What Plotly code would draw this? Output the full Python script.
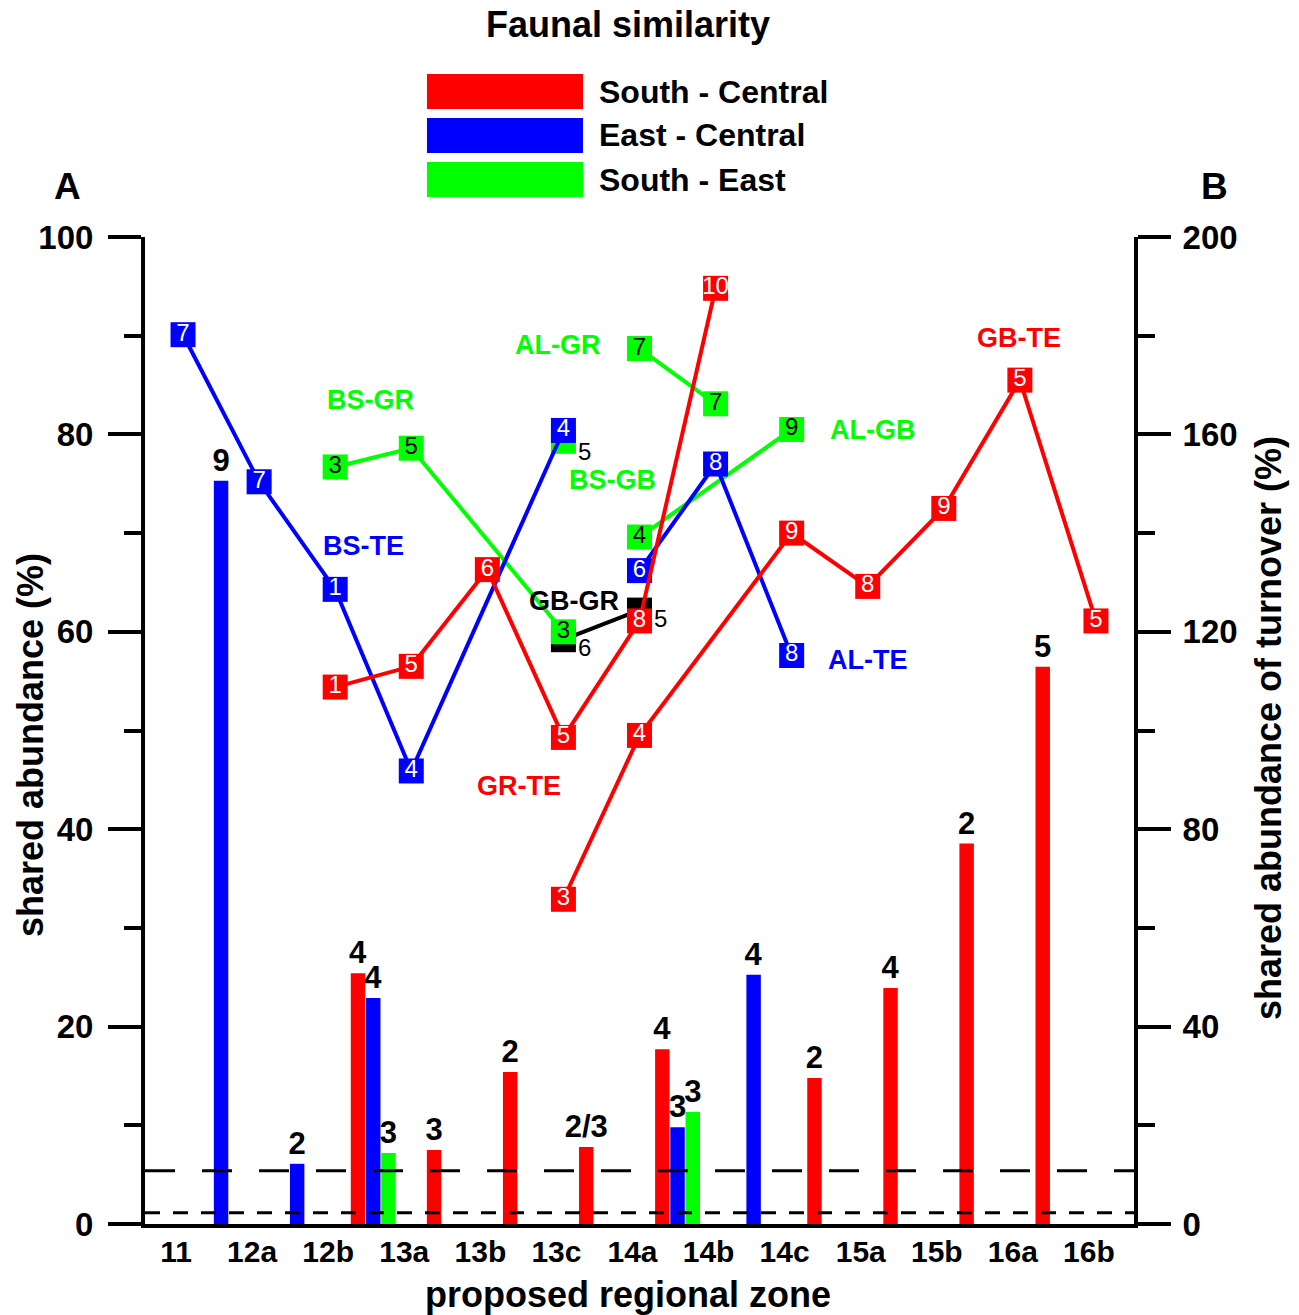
import plotly.graph_objects as go

# ---------------- data ----------------
zones = ["11", "12a", "12b", "13a", "13b", "13c", "14a", "14b", "14c", "15a", "15b", "16a", "16b"]

# bars (shared abundance of turnover, %, right axis) placed at the boundary after the given zone
sc_after = ["12b", "13a", "13b", "13c", "14a", "14c", "15a", "15b", "16a"]
sc_values = [50.8, 15.0, 30.8, 15.6, 35.4, 29.6, 47.8, 77.1, 112.9]
sc_labels = ["4", "3", "2", "2/3", "4", "2", "4", "2", "5"]

ec_after = ["11", "12a", "12b", "14a", "14b"]
ec_values = [150.6, 12.2, 45.8, 19.6, 50.5]
ec_labels = ["9", "2", "4", "3", "4"]

se_after = ["12b", "14a"]
se_values = [14.4, 22.7]
se_labels = ["3", "3"]

# reference levels (right axis)
ref_long = 10.8
ref_short = 2.3

# lines (shared abundance, %, left axis)
gbgr_zones = ["13c", "14a"];              gbgr_values = [59.2, 62.2];  gbgr_labels = ["6", "5"]
bsgb_zones = ["13c"];                     bsgb_values = [79.3];        bsgb_labels = ["5"]
bsgr_zones = ["12b", "13a", "13c"];       bsgr_values = [76.7, 78.6, 60.0]; bsgr_labels = ["3", "5", "3"]
algr_zones = ["14a", "14b"];              algr_values = [88.7, 83.1];  algr_labels = ["7", "7"]
algb_zones = ["14a", "14c"];              algb_values = [69.6, 80.5];  algb_labels = ["4", "9"]
bste_zones = ["11", "12a", "12b", "13a", "13c"]; bste_values = [90.1, 75.2, 64.3, 45.9, 80.4]; bste_labels = ["7", "7", "1", "4", "4"]
alte_zones = ["14a", "14b", "14c"];       alte_values = [66.2, 77.0, 57.6]; alte_labels = ["6", "8", "8"]
grte_zones = ["12b", "13a", "13b", "13c", "14a", "14b"]; grte_values = [54.4, 56.5, 66.3, 49.3, 61.1, 94.8]; grte_labels = ["1", "5", "6", "5", "8", "10"]
gbte_zones = ["13c", "14a", "14c", "15a", "15b", "16a", "16b"]; gbte_values = [32.9, 49.5, 70.0, 64.6, 72.5, 85.5, 61.1]; gbte_labels = ["3", "4", "9", "8", "9", "5", "5"]

legend_names = ["South - Central", "East - Central", "South - East"]

# ---------------- styling ----------------
RED, BLUE, GREEN, BLACK = "#FF0000", "#0000FF", "#00FF00", "#000000"
FONT = "Liberation Sans, Arial, sans-serif"
idx = {z: i for i, z in enumerate(zones)}

fig = go.Figure()

# bars
bar_specs = [
    (sc_after, sc_values, sc_labels, RED, -0.295, legend_names[0]),
    (ec_after, ec_values, ec_labels, BLUE, -0.095, legend_names[1]),
    (se_after, se_values, se_labels, GREEN, 0.105, legend_names[2]),
]
for after, vals, labs, col, off, name in bar_specs:
    fig.add_trace(go.Bar(
        x=[idx[z] + 0.5 for z in after], y=vals, yaxis="y2", name=name,
        width=0.19, offset=off, marker=dict(color=col, line=dict(width=0)),
        text=labs, textposition="outside", constraintext="none", cliponaxis=False,
        textfont=dict(family=FONT, size=31, color=BLACK, weight="bold"),
        showlegend=False, hoverinfo="skip",
    ))

# lines
def add_line(zs, vals, labs, col, tcol, show_text=True, name=""):
    fig.add_trace(go.Scatter(
        x=[idx[z] for z in zs], y=vals, name=name,
        mode="lines+markers+text" if show_text else "lines+markers",
        text=labs if show_text else None, textposition="middle center",
        textfont=dict(family=FONT, size=24, color=tcol),
        marker=dict(symbol="square", size=25, color=col, line=dict(width=0)),
        line=dict(color=col, width=4), cliponaxis=False, showlegend=False,
    ))

add_line(gbgr_zones, gbgr_values, gbgr_labels, BLACK, "white", False, "GB-GR")
add_line(bsgb_zones, bsgb_values, bsgb_labels, GREEN, BLACK, False, "BS-GB")
add_line(bsgr_zones, bsgr_values, bsgr_labels, GREEN, BLACK, True, "BS-GR")
add_line(algr_zones, algr_values, algr_labels, GREEN, BLACK, True, "AL-GR")
add_line(algb_zones, algb_values, algb_labels, GREEN, BLACK, True, "AL-GB")
add_line(bste_zones, bste_values, bste_labels, BLUE, "white", True, "BS-TE")
add_line(alte_zones, alte_values, alte_labels, BLUE, "white", True, "AL-TE")
add_line(grte_zones, grte_values, grte_labels, RED, "white", True, "GR-TE")
add_line(gbte_zones, gbte_values, gbte_labels, RED, "white", True, "GB-TE")

annotations = []
C = dict(xanchor="center", yanchor="middle", showarrow=False)
# outside labels for the partially hidden squares
for zs, vals, labs, dy in [(gbgr_zones, gbgr_values, gbgr_labels, -8), (bsgb_zones, bsgb_values, bsgb_labels, -10)]:
    for z, v, l in zip(zs, vals, labs):
        annotations.append(dict(x=idx[z], y=v, xref="x", yref="y", text=l, xshift=21, yshift=dy,
                                font=dict(family=FONT, size=24, color=BLACK), **C))

# series names
series_names = [
    ("BS-GR", 2.46, 83.5, GREEN), ("BS-TE", 2.37, 68.7, BLUE), ("AL-GR", 4.92, 89.1, GREEN),
    ("BS-GB", 5.65, 75.4, GREEN), ("GB-GR", 5.14, 63.1, BLACK), ("GR-TE", 4.42, 44.4, RED),
    ("AL-GB", 9.06, 80.4, GREEN), ("GB-TE", 10.99, 89.8, RED), ("AL-TE", 9.0, 57.1, BLUE),
]
for t, x, y, c in series_names:
    annotations.append(dict(x=x, y=y, xref="x", yref="y", text=t,
                            font=dict(family=FONT, size=27, color=c, weight="bold"), **C))

# legend (custom, large colour bars)
shapes = []
leg_cols = [RED, BLUE, GREEN]
leg_y = [(1.1651, 1.1297), (1.1206, 1.0851), (1.0760, 1.0405)]
for name, col, (y0, y1) in zip(legend_names, leg_cols, leg_y):
    shapes.append(dict(type="rect", xref="paper", yref="paper", x0=0.2851, x1=0.4429, y0=y1, y1=y0,
                       fillcolor=col, line=dict(width=0)))
    annotations.append(dict(x=0.4570, y=(y0 + y1) / 2, xref="paper", yref="paper", text=name,
                            showarrow=False, xanchor="left", yanchor="middle",
                            font=dict(family=FONT, size=32, color=BLACK, weight="bold")))

# reference dashed lines
shapes.append(dict(type="line", xref="paper", yref="y2", x0=0, x1=1, y0=ref_long, y1=ref_long,
                   line=dict(color=BLACK, width=3, dash="30px,27px")))
shapes.append(dict(type="line", xref="paper", yref="y2", x0=0, x1=1, y0=ref_short, y1=ref_short,
                   line=dict(color=BLACK, width=3, dash="15px,13px")))

# panel letters and axis titles
bold = lambda s: dict(family=FONT, size=s, color=BLACK, weight="bold")
annotations += [
    dict(x=-0.0779, y=1.0507, xref="paper", yref="paper", text="A", font=bold(37), **C),
    dict(x=1.0819, y=1.0507, xref="paper", yref="paper", text="B", font=bold(37), **C),
    dict(x=-0.1163, y=0.4853, xref="paper", yref="paper", text="shared abundance (%)", textangle=-90,
         font=bold(36), **C),
    dict(x=1.1355, y=0.5025, xref="paper", yref="paper", text="shared abundance of turnover (%)",
         textangle=-90, font=bold(36), **C),
    dict(x=0.4884, y=-0.0719, xref="paper", yref="paper", text="proposed regional zone",
         font=bold(36), **C),
]

axis_common = dict(showline=True, linecolor=BLACK, linewidth=4, showgrid=False, zeroline=False,
                   ticks="outside", ticklen=33, tickwidth=4, tickcolor=BLACK, tickfont=bold(33),
                   minor=dict(ticks="outside", ticklen=17, tickwidth=4, tickcolor=BLACK))

fig.update_layout(
    width=1299, height=1315,
    margin=dict(l=145, r=165, t=237, b=91),
    paper_bgcolor="white", plot_bgcolor="white",
    barmode="overlay",
    title=dict(text="Faunal similarity", x=628 / 1299, xanchor="center", y=1 - 24 / 1315,
               yanchor="middle", font=bold(36)),
    xaxis=dict(range=[-0.5, 12.5], tickmode="array", tickvals=list(range(len(zones))), ticktext=zones,
               showline=True, linecolor=BLACK, linewidth=4, showgrid=False, zeroline=False, ticks="",
               tickfont=bold(30), ticklabelshift=-7, ticklabelstandoff=-2),
    yaxis=dict(range=[0, 100], dtick=20, **axis_common, ticklabelstandoff=8),
    yaxis2=dict(range=[0, 200], dtick=40, overlaying="y", side="right", **axis_common,
                ticklabelstandoff=5),
    shapes=shapes, annotations=annotations,
)
fig.update_layout(yaxis_minor_dtick=10, yaxis2_minor_dtick=20)

fig.write_html("out.html", post_script="document.body.style.margin='0px';",
               config={"displayModeBar": False})
